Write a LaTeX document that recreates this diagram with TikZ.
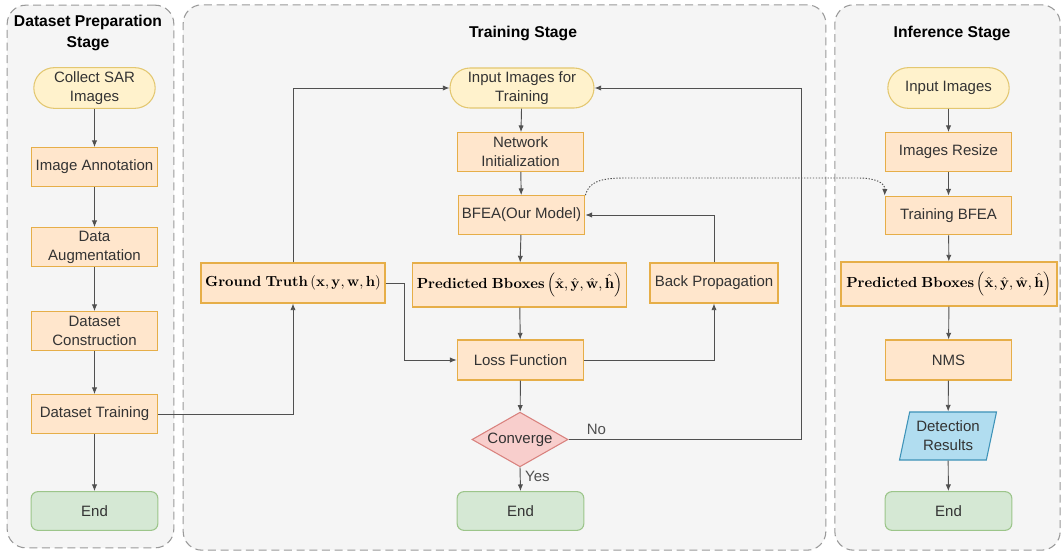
\documentclass[tikz,border=0pt]{standalone}
\usepackage[no-math]{fontspec}
\setmainfont{Liberation Sans}
\usepackage{xcolor}
\usetikzlibrary{positioning, arrows.meta, shapes.geometric, shapes.misc}
\definecolor{boxfill}{HTML}{FFE6CC}
\definecolor{boxbdr}{HTML}{E6AE48}
\definecolor{termfill}{HTML}{FFF2CC}
\definecolor{termbdr}{HTML}{E3C770}
\definecolor{endfill}{HTML}{D5E8D4}
\definecolor{endbdr}{HTML}{9CC58A}
\definecolor{decfill}{HTML}{F8CECC}
\definecolor{decbdr}{HTML}{D9827E}
\definecolor{iofill}{HTML}{B1DDF0}
\definecolor{iobdr}{HTML}{3E93B8}
\definecolor{panelbg}{HTML}{F5F5F5}
\definecolor{panelbdr}{HTML}{9A9A9A}
\definecolor{txtcol}{HTML}{333333}
\definecolor{arrcol}{HTML}{505050}
\tikzset{
  PB/.style={draw=boxbdr,fill=boxfill,thick,rectangle,minimum width=95pt,minimum height=29pt,align=center,inner sep=2pt},
  ST/.style={draw=termbdr,fill=termfill,thick,rounded rectangle,minimum width=95pt,minimum height=30.5pt,align=center,inner sep=2pt},
  EN/.style={draw=endbdr,fill=endfill,thick,rectangle,rounded corners=5pt,minimum width=95pt,minimum height=29pt,align=center},
  DC/.style={draw=decbdr,fill=decfill,thick,diamond,aspect=2,inner sep=0pt,minimum width=72pt,minimum height=41pt},
  IO/.style={draw=iobdr,fill=iofill,thick,trapezium,trapezium left angle=75,trapezium right angle=105,trapezium stretches=true,minimum width=73pt,minimum height=36pt,align=center,inner sep=1pt},
  PN/.style={draw=panelbdr,fill=panelbg,thick,dash pattern=on 6pt off 3.5pt,rounded corners=14pt},
  TT/.style={font=\fontsize{11.75}{15.75}\selectfont\bfseries,text=black,align=center},
  MT/.style={font=\fontsize{11}{13.5}\selectfont},
  FL/.style={-{Latex[length=5pt,width=4pt]},line width=0.7pt,arrcol},
  DT/.style={-{Latex[length=5pt,width=4pt]},line width=0.7pt,dash pattern=on 1pt off 1.2pt,arrcol},
}
\begin{document}
\begin{tikzpicture}[x=0.75pt,y=-0.75pt,font=\fontsize{11.25}{14.25}\selectfont\color{txtcol}]
\useasboundingbox (0,0) rectangle (1063,555);

% Stage panels
\node[PN,minimum width=125pt,minimum height=407pt](prep) at (90.5,276.5){};
\node[PN,minimum width=482pt,minimum height=409pt](train) at (504.5,277.5){};
\node[PN,minimum width=169pt,minimum height=409pt](infer) at (947.5,277.5){};
\node[TT](preptitle) at (88,33){Dataset Preparation\\Stage};
\node[TT](traintitle) at (523,33){Training Stage};
\node[TT](infertitle) at (952,33){Inference Stage};

% Dataset Preparation Stage
\node[ST](collect) at (94.5,88){Collect SAR\\Images};
\node[PB](annot)   at (94.5,167){Image Annotation};
\node[PB](augm)    at (94.5,247){Data\\Augmentation};
\node[PB](constr)  at (94.5,331){Dataset\\Construction};
\node[PB](dtrain)  at (94.5,414){Dataset Training};
\node[EN](pend)    at (94.5,511){End};

% Training Stage
\node[ST,minimum width=112pt,minimum height=30pt](input) at (522,88){Input Images for\\Training};
\node[PB](netinit) at (520.5,152){Network\\Initialization};
\node[PB](bfea)    at (521.5,215){BFEA(Our Model)};
\node[PB,MT,minimum width=161pt,minimum height=33pt](pred) at (519.5,285){$\mathbf{Predicted\ Bboxes}\left(\hat{\mathbf{x}},\hat{\mathbf{y}},\hat{\mathbf{w}},\hat{\mathbf{h}}\right)$};
\node[PB,minimum width=96pt,minimum height=30pt](backp) at (714,283){Back Propagation};
\node[PB,MT,minimum width=138pt,minimum height=30pt](gt) at (293,283){$\mathbf{Ground\ Truth}\,(\mathbf{x},\mathbf{y},\mathbf{w},\mathbf{h})$};
\node[PB,minimum height=30pt](loss) at (520.5,360){Loss Function};
\node[DC](conv) at (520,439.5){Converge};
\node[EN](tend) at (520.5,511){End};

% Inference Stage
\node[ST](inimg)  at (948.5,88){Input Images};
\node[PB](resize) at (948.5,152){Images Resize};
\node[PB](trbfea) at (948.5,215.5){Training BFEA};
\node[PB,MT,minimum width=162pt,minimum height=33pt](ipred) at (949,284){$\mathbf{Predicted\ Bboxes}\left(\hat{\mathbf{x}},\hat{\mathbf{y}},\hat{\mathbf{w}},\hat{\mathbf{h}}\right)$};
\node[PB,minimum height=30pt](nms) at (948.5,360){NMS};
\node[IO](detres) at (948,436){Detection\\Results};
\node[EN](iend) at (948.5,511){End};

% FLOWS: dataset preparation
\draw[FL](collect)--(annot);
\draw[FL](annot)--(augm);
\draw[FL](augm)--(constr);
\draw[FL](constr)--(dtrain);
\draw[FL](dtrain)--(pend);

% FLOWS: training
\draw[FL](dtrain.east)-|(gt.south);
\draw[FL](gt.north)|-(input.west);
\draw[FL](input)--(netinit);
\draw[FL](netinit)--(bfea);
\draw[FL](bfea)--(pred);
\draw[FL](pred)--(loss);
\draw[FL](gt.east)--++(19,0)|-(loss.west);
\draw[FL](loss.east)-|(backp.south);
\draw[FL](backp.north)|-(bfea.east);
\draw[FL](loss)--(conv);
\draw[FL](conv.south)--node[right,pos=0.4]{Yes}(tend.north);
\draw[FL](conv.east)--node[above,pos=0.12]{No}++(233,0)|-(input.east);

% FLOWS: inference
\draw[FL](inimg)--(resize);
\draw[FL](resize)--(trbfea);
\draw[FL](trbfea)--(ipred);
\draw[FL](ipred)--(nms);
\draw[FL](nms)--(detres);
\draw[FL](detres)--(iend);

% trained model handed over to inference
\draw[DT](bfea.north east) .. controls (589,182) and (600,178) .. (625,178) -- (858,178) .. controls (876,178) and (885,183) .. (trbfea.north west);

\end{tikzpicture}
\end{document}
